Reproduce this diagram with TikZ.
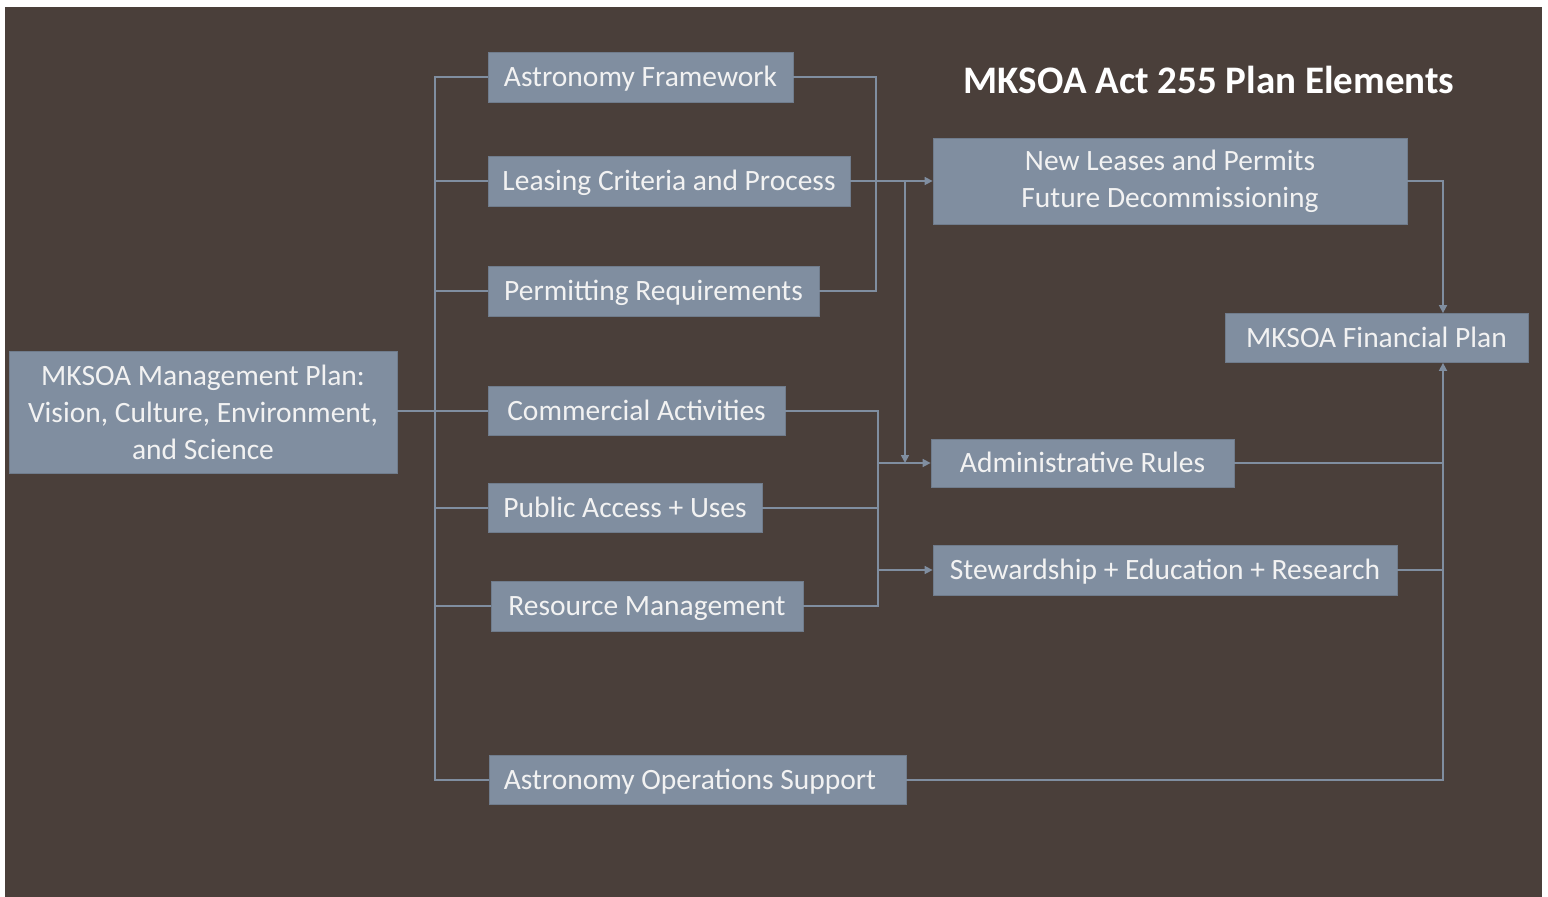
\documentclass[tikz,border=0pt]{standalone}
\usepackage{fontspec}
\setmainfont{Carlito}
\usetikzlibrary{arrows.meta}
\definecolor{slide}{RGB}{74,63,58}
\definecolor{boxfill}{RGB}{128,142,160}
\definecolor{boxedge}{RGB}{112,124,140}
\definecolor{linkcol}{RGB}{128,142,160}
\definecolor{boxtext}{RGB}{242,242,242}
\tikzset{
	planbox/.style={fill=boxfill, draw=boxedge, line width=.8pt, text=boxtext, inner sep=0pt,
		align=center, font=\fontsize{29.5}{37}\selectfont},
	oneline/.style={planbox, text height=19pt, text depth=0pt},
	link/.style={draw=linkcol, line width=1.6pt},
	arr/.style={link, -{Triangle[width=8pt,length=8pt]}},
}
\begin{document}
\begin{tikzpicture}[x=1pt, y=-1pt]
	\useasboundingbox[fill=white] (0,0) rectangle (1548,897);
	\fill[slide] (5,7) rectangle (1542,897);
	% plan elements, left column
	\node[oneline, minimum width=305pt, minimum height=50pt] (astro)     at (640.5,77)  {Astronomy Framework};
	\node[oneline, minimum width=362pt, minimum height=50pt] (leasing)   at (669,181)   {Leasing Criteria and Process};
	\node[oneline, minimum width=331pt, minimum height=50pt] (permit)    at (653.5,291) {Permitting Requirements};
	\node[oneline, minimum width=297pt, minimum height=49pt] (commerce)  at (636.5,411) {Commercial Activities};
	\node[oneline, minimum width=274pt, minimum height=49pt] (access)    at (625,508)   {Public Access + Uses};
	\node[oneline, minimum width=312pt, minimum height=50pt] (resource)  at (647,606)   {Resource Management};
	\node[oneline, minimum width=417pt, minimum height=49pt] (opsupport) at (697.5,780) {Astronomy Operations Support\hspace{15pt}};
	\node[planbox, minimum width=388pt, minimum height=122pt] (mgmt)     at (203,412)   {MKSOA Management Plan:\\Vision, Culture, Environment,\\and Science};
	% right column
	\node[planbox, minimum width=474pt, minimum height=86pt] (newlease) at (1170,181)   {New Leases and Permits\\Future Decommissioning};
	\node[oneline, minimum width=303pt, minimum height=49pt] (finance)  at (1376.5,338) {MKSOA Financial Plan};
	\node[oneline, minimum width=303pt, minimum height=48pt] (admin)    at (1082.5,463) {Administrative Rules};
	\node[oneline, minimum width=464pt, minimum height=50pt] (steward)  at (1165,570)   {Stewardship + Education + Research};
	\node[text=white, font=\fontsize{39}{44}\selectfont\bfseries] (title) at (1209,80) {MKSOA Act 255 Plan Elements};
	% junctions
	\coordinate (ltrunk) at (435,780);
	\coordinate (lease join) at (876,291);
	\coordinate (drop) at (905,181);
	\coordinate (use join) at (878,606);
	\coordinate (rtrunk) at (1443,780);
	% left trunk
	\draw[link] (astro.west) -| (ltrunk) -- (opsupport.west);
	\foreach \n in {leasing,permit,access,resource}
		\draw[link] (\n.west) -- (\n.west -| ltrunk);
	\draw[link] (mgmt.east |- commerce) -- (commerce);
	% leasing group
	\draw[link] (astro.east) -| (lease join) -- (permit.east);
	\draw[arr] (leasing) -- (newlease);
	\draw[arr] (drop) -- (drop |- admin);
	% use group
	\draw[link] (commerce.east) -| (use join) -- (resource.east);
	\draw[link] (access.east) -- (access.east -| use join);
	\draw[arr] (use join |- admin) -- (admin.west);
	\draw[arr] (use join |- steward) -- (steward.west);
	% financial plan
	\draw[arr] (newlease.east) -| (finance.north -| rtrunk);
	\draw[arr] (opsupport.east) -| (finance.south -| rtrunk);
	\draw[link] (admin.east) -- (admin.east -| rtrunk);
	\draw[link] (steward.east) -- (steward.east -| rtrunk);
\end{tikzpicture}
\end{document}
